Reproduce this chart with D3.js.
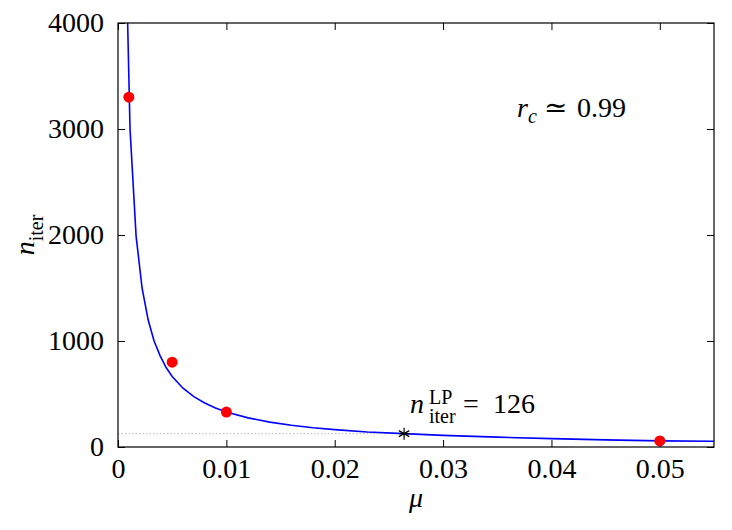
<!DOCTYPE html>
<html>
<head>
<meta charset="utf-8">
<script src="https://cdn.jsdelivr.net/npm/d3@7"></script>
<style>
  body { margin: 0; background: #fff; }
  svg { display: block; }
</style>
</head>
<body>
<div id="chart"></div>
<script>
// fitted curve
var curveMu = [0.00089, 0.00111, 0.00167, 0.00222, 0.00278, 0.00333, 0.00389, 0.00444, 0.005,
  0.006, 0.007, 0.008, 0.009, 0.010, 0.012, 0.014, 0.016, 0.018, 0.020, 0.023, 0.0264,
  0.030, 0.035, 0.040, 0.045, 0.050, 0.055];
var curveN = [4000, 3000, 1990, 1500, 1200, 1000, 860, 750, 665,
  555, 475, 415, 368, 330, 275, 235, 205, 182, 164, 142, 126,
  110, 93, 79, 67, 58, 54];

// measured points
var pointMu = [0.001, 0.005, 0.01, 0.05];
var pointN = [3300, 800, 330, 57];

// LP reference
var lpMu = 0.0264;
var lpN = 126;

var xTicks = [0, 0.01, 0.02, 0.03, 0.04, 0.05];
var yTicks = [0, 1000, 2000, 3000, 4000];

var serif = "'Liberation Serif', 'Times New Roman', 'DejaVu Serif', serif";

var width = 732, height = 530;
var margin = {top: 23, right: 18, bottom: 83, left: 118};
var w = width - margin.left - margin.right,
    h = height - margin.top - margin.bottom;

var svg = d3.select("#chart").append("svg")
  .attr("width", width)
  .attr("height", height);

var g = svg.append("g")
  .attr("transform", "translate(" + margin.left + "," + margin.top + ")");

var x = d3.scaleLinear().domain([0, 0.055]).range([0, w]);
var y = d3.scaleLinear().domain([0, 4000]).range([h, 0]);

g.append("clipPath").attr("id", "plotClip")
  .append("rect").attr("width", w).attr("height", h);

// axes, ticks pointing inwards on all four sides
function fmtX(d) { return d === 0 ? "0" : d3.format(".2f")(d); }
var axes = [
  d3.axisBottom(x).tickValues(xTicks).tickSize(-7).tickFormat(fmtX),
  d3.axisTop(x).tickValues(xTicks).tickSize(-7).tickFormat(""),
  d3.axisLeft(y).tickValues(yTicks).tickSize(-7).tickFormat(d3.format("d")),
  d3.axisRight(y).tickValues(yTicks).tickSize(-7).tickFormat("")
];
var trans = ["translate(0," + h + ")", "translate(0,0)", "translate(0,0)", "translate(" + w + ",0)"];
axes.forEach(function (ax, i) {
  var a = g.append("g").attr("transform", trans[i]).call(ax);
  a.select(".domain").remove();
  a.selectAll("line").attr("stroke", "#000");
  a.selectAll("text").style("font-size", "28px").style("font-family", serif);
  if (i === 0) a.selectAll("text").attr("dy", "0.71em").attr("y", 11);
  if (i === 2) a.selectAll("text").attr("x", -14);
});

// LP dotted guide
g.append("line")
  .attr("x1", x(0)).attr("x2", x(lpMu))
  .attr("y1", y(lpN)).attr("y2", y(lpN))
  .attr("stroke", "#aaa").attr("stroke-width", 0.8)
  .attr("stroke-dasharray", "1.5,2");

var line = d3.line()
  .x(function (d) { return x(d[0]); })
  .y(function (d) { return y(d[1]); });

g.append("path")
  .datum(d3.zip(curveMu, curveN))
  .attr("clip-path", "url(#plotClip)")
  .attr("d", line)
  .attr("fill", "none")
  .attr("stroke", "#0000ff")
  .attr("stroke-width", 1.6);

g.selectAll(".pt")
  .data(d3.zip(pointMu, pointN))
  .enter().append("circle")
  .attr("class", "pt")
  .attr("cx", function (d) { return x(d[0]); })
  .attr("cy", function (d) { return y(d[1]); })
  .attr("r", 5.5)
  .attr("fill", "#ff0000");

// star marker
var star = g.append("g")
  .attr("transform", "translate(" + x(lpMu) + "," + y(lpN) + ")")
  .attr("stroke", "#000").attr("stroke-width", 1.2);
[0, 60, 120].forEach(function (a) {
  var r = a * Math.PI / 180, s = 6;
  star.append("line")
    .attr("x1", -s * Math.sin(r)).attr("y1", -s * Math.cos(r))
    .attr("x2", s * Math.sin(r)).attr("y2", s * Math.cos(r));
});
star.append("line").attr("x1", -5).attr("x2", 5).attr("y1", 0).attr("y2", 0);

// frame
g.append("rect")
  .attr("width", w).attr("height", h)
  .attr("fill", "none").attr("stroke", "#000").attr("stroke-width", 1.2);

// labels
function label(sel) {
  return sel.style("font-family", serif).style("font-size", "28px").attr("fill", "#000");
}

label(svg.append("text"))
  .attr("x", margin.left + w / 2).attr("y", 507)
  .attr("text-anchor", "middle")
  .style("font-style", "italic")
  .text("μ");

var yl = label(svg.append("text"))
  .attr("transform", "translate(34," + (margin.top + h / 2) + ") rotate(-90)")
  .attr("text-anchor", "middle");
yl.append("tspan").style("font-style", "italic").text("n");
yl.append("tspan").attr("dy", 9).style("font-size", "20px").text("iter");

var rc = label(svg.append("text"))
  .attr("x", 517).attr("y", 117);
rc.append("tspan").style("font-style", "italic").text("r");
rc.append("tspan").attr("dy", 6).style("font-size", "20px").style("font-style", "italic").text("c");
label(svg.append("text")).attr("x", 544).attr("y", 117).text("≃");
label(svg.append("text")).attr("x", 577).attr("y", 117).text("0.99");

label(svg.append("text"))
  .attr("x", 410).attr("y", 413)
  .style("font-style", "italic")
  .text("n");
label(svg.append("text"))
  .attr("x", 429).attr("y", 404)
  .style("font-size", "20px")
  .text("LP");
label(svg.append("text"))
  .attr("x", 429).attr("y", 423)
  .style("font-size", "20px")
  .text("iter");
label(svg.append("text"))
  .attr("x", 463).attr("y", 413)
  .text("=");
label(svg.append("text"))
  .attr("x", 493).attr("y", 413)
  .text("126");
</script>
</body>
</html>
